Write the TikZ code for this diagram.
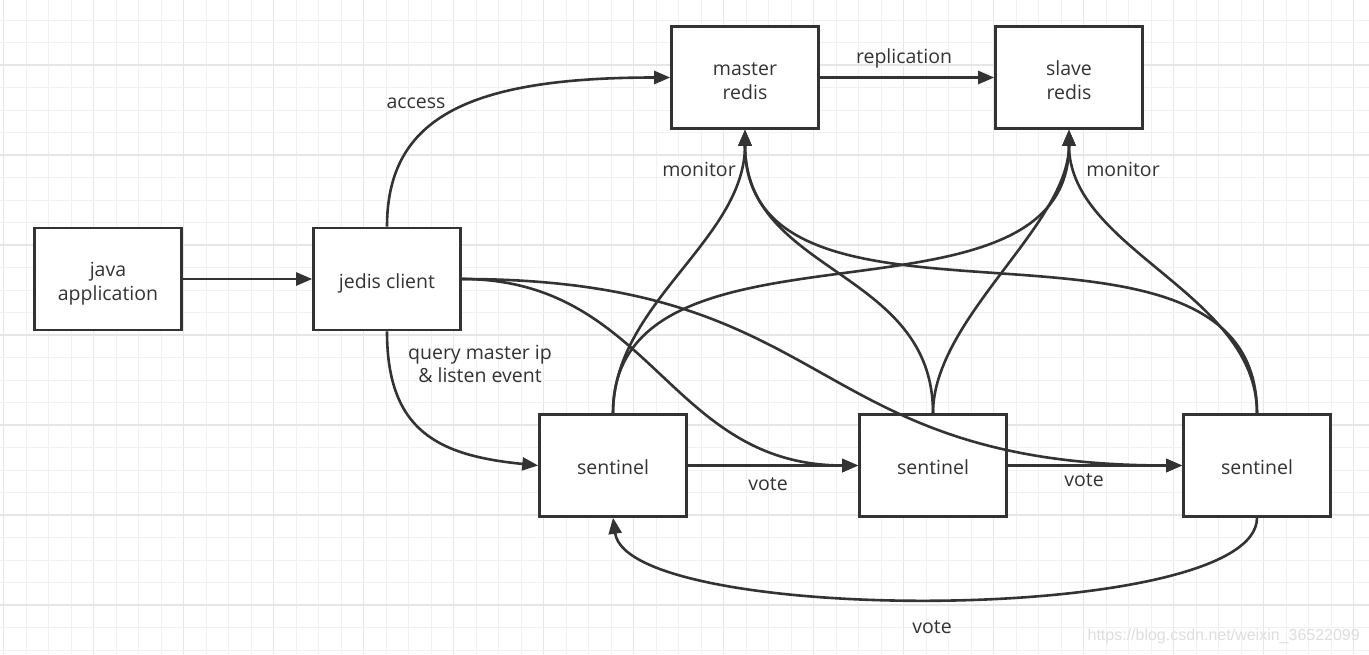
\documentclass[tikz,border=0pt]{standalone}
\usepackage{fontspec}
\setmainfont{Open Sans}
\newfontfamily\wmfont{Liberation Sans}
\usetikzlibrary{arrows.meta}
\definecolor{ink}{HTML}{333333}
\definecolor{gridminor}{HTML}{F1F1F1}
\definecolor{gridmajor}{HTML}{E6E6E6}
\newcommand\lowtext[2]{\raisebox{-#1}[\height][\depth]{\begin{tabular}{@{}c@{}}#2\end{tabular}}}
\begin{document}
\begin{tikzpicture}[x=1pt,y=-1pt,
  box/.style={draw=ink, line width=2.6pt, fill=white, minimum width=147pt, minimum height=102pt, align=center, inner sep=0pt, font=\fontsize{19.5}{24}\selectfont, text=ink},
  conn/.style={draw=ink, line width=2.6pt, -{Triangle[length=16pt,width=13pt]}},
  lbl/.style={font=\fontsize{19.5}{23}\selectfont, text=ink, align=center, inner sep=0pt},
  wm/.style={font=\fontsize{16}{16}\selectfont\wmfont, text=black!13, anchor=east, inner sep=0pt},
]
\useasboundingbox (0,0) rectangle (1369,654);
\fill[white] (0,0) rectangle (1369,654);
% grid
\foreach \k in {0,...,60}{
  \pgfmathtruncatemacro{\m}{mod(\k,4)}
  \ifnum\m=0
    \draw[gridmajor, line width=1.3pt] ({3.7+22.5*\k},0) -- ({3.7+22.5*\k},654);
  \else
    \draw[gridminor, line width=1pt] ({3.7+22.5*\k},0) -- ({3.7+22.5*\k},654);
  \fi
}
\foreach \k in {1,...,29}{
  \pgfmathtruncatemacro{\m}{mod(\k,4)}
  \ifnum\m=3
    \draw[gridmajor, line width=1.3pt] (0,{-2.5+22.5*\k}) -- (1369,{-2.5+22.5*\k});
  \else
    \draw[gridminor, line width=1pt] (0,{-2.5+22.5*\k}) -- (1369,{-2.5+22.5*\k});
  \fi
}
% nodes
\node[box] (java) at (108,279) {\lowtext{5pt}{java\\application}};
\node[box] (jedis) at (387,279) {\lowtext{5pt}{jedis client}};
\node[box] (master) at (745,77.5) {\lowtext{5pt}{master\\redis}};
\node[box] (slave) at (1069,77.5) {\lowtext{5pt}{slave\\redis}};
\node[box] (s1) at (613,465.5) {\lowtext{4.5pt}{sentinel}};
\node[box] (s2) at (933,465.5) {\lowtext{4.5pt}{sentinel}};
\node[box] (s3) at (1257,465.5) {\lowtext{4.5pt}{sentinel}};
% connectors
\draw[conn] (java) -- (jedis);
\draw[conn] (master) -- (slave);
\draw[conn] (s1) -- (s2);
\draw[conn] (s2) -- (s3);
\draw[conn] (jedis.north) .. controls +(0,-110) and +(-200,0) .. (master.west);
\draw[conn] (jedis.south) .. controls +(0,100) and +(-100,-10) .. (s1.west);
\draw[conn] (jedis.east) .. controls +(190,0) and +(-190,0) .. (s2.west);
\draw[conn] (jedis.east) .. controls +(380,0) and +(-380,0) .. (s3.west);
% monitor
\draw[conn] (s1.north) .. controls +(0,-110) and +(0,110) .. (master.south);
\draw[conn] (s1.north) .. controls +(0,-215) and +(0,215) .. (slave.south);
\draw[conn] (s2.north) .. controls +(0,-145) and +(0,145) .. (master.south);
\draw[conn] (s2.north) .. controls +(0,-95) and +(0,95) .. (slave.south);
\draw[conn] (s3.north) .. controls +(0,-240) and +(0,240) .. (master.south);
\draw[conn] (s3.north) .. controls +(0,-120) and +(0,120) .. (slave.south);
% bottom vote
\draw[conn] (s3.south) .. controls +(0,108) and +(15,108) .. (s1.south);
% labels
\node[lbl] (lacc) at (416,103) {access};
\node[lbl] (lquery) at (480,364) {query master ip\\\& listen event};
\node[lbl] (lrep) at (904,58) {replication};
\node[lbl] (lmon1) at (699,169) {monitor};
\node[lbl] (lmon2) at (1123,169) {monitor};
\node[lbl] (lvote1) at (768,484) {vote};
\node[lbl] (lvote2) at (1084,480) {vote};
\node[lbl] (lvote3) at (932,627) {vote};
\node[wm] (wmark) at (1360,636) {https://blog.csdn.net/weixin\_36522099};
\end{tikzpicture}
\end{document}
